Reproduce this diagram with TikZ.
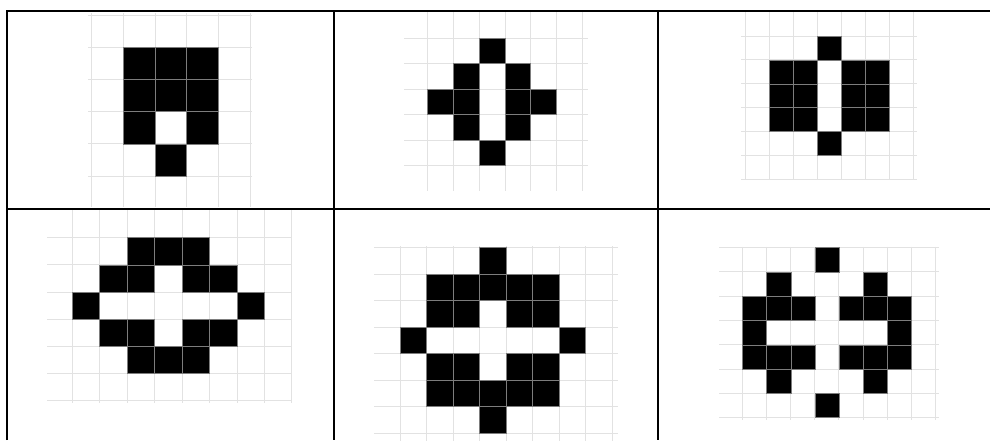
\documentclass[tikz,border=0pt]{standalone}
\usepackage{tikz}
\definecolor{gridgray}{RGB}{226,226,226}
\definecolor{edgegray}{RGB}{125,125,125}

\begin{document}
\begin{tikzpicture}[x=1pt,y=-1pt]
			\useasboundingbox (0,0) rectangle (990,440);
			% top left
			\begin{scope}[shift={(91.7,15)},xscale=31.67,yscale=32.2]
				\foreach \x in {0,...,5} {
					\draw[gridgray, line width=1pt] (\x,-0.06) -- (\x,5.96);
				}
				\foreach \y in {0,...,5} {
					\draw[gridgray, line width=1pt] (-0.12,\y) -- (5.06,\y);
				}
				\foreach \x/\y in {1/1,2/1,3/1,1/2,2/2,3/2,1/3,3/3,2/4} {
					\fill[black, draw=edgegray, line width=0.6pt] (\x,\y) rectangle ++(1,1);
				}
			\end{scope}
			% top middle
			\begin{scope}[shift={(427.7,38.3)},xscale=25.77,yscale=25.48]
				\foreach \x in {0,...,6} {
					\draw[gridgray, line width=1pt] (\x,-1.03) -- (\x,5.99);
				}
				\foreach \y in {0,...,5} {
					\draw[gridgray, line width=1pt] (-0.92,\y) -- (6.21,\y);
				}
				\foreach \x/\y in {2/0,1/1,3/1,0/2,1/2,3/2,4/2,1/3,3/3,2/4} {
					\fill[black, draw=edgegray, line width=0.6pt] (\x,\y) rectangle ++(1,1);
				}
			\end{scope}
			% top right
			\begin{scope}[shift={(745,36)},xscale=24,yscale=23.9]
				\foreach \x in {0,...,7} {
					\draw[gridgray, line width=1pt] (\x,-1.0) -- (\x,6.03);
				}
				\foreach \y in {0,...,6} {
					\draw[gridgray, line width=1pt] (-0.17,\y) -- (7.15,\y);
				}
				\foreach \x/\y in {3/0,1/1,2/1,4/1,5/1,1/2,2/2,4/2,5/2,1/3,2/3,4/3,5/3,3/4} {
					\fill[black, draw=edgegray, line width=0.6pt] (\x,\y) rectangle ++(1,1);
				}
			\end{scope}
			% bottom left
			\begin{scope}[shift={(72.3,237.7)},xscale=27.46,yscale=27.17]
				\foreach \x in {0,...,8} {
					\draw[gridgray, line width=1pt] (\x,-1.02) -- (\x,6.09);
				}
				\foreach \y in {0,...,6} {
					\draw[gridgray, line width=1pt] (-0.93,\y) -- (8.0,\y);
				}
				\foreach \x/\y in {2/0,3/0,4/0,1/1,2/1,4/1,5/1,0/2,6/2,1/3,2/3,4/3,5/3,2/4,3/4,4/4} {
					\fill[black, draw=edgegray, line width=0.6pt] (\x,\y) rectangle ++(1,1);
				}
			\end{scope}
			% bottom middle
			\begin{scope}[shift={(400,247.7)},xscale=26.5,yscale=26.51]
				\foreach \x in {0,...,8} {
					\draw[gridgray, line width=1pt] (\x,-0.06) -- (\x,7.3);
				}
				\foreach \y in {0,...,7} {
					\draw[gridgray, line width=1pt] (-0.97,\y) -- (8.21,\y);
				}
				\foreach \x/\y in {3/0,1/1,2/1,3/1,4/1,5/1,1/2,2/2,4/2,5/2,0/3,6/3,1/4,2/4,4/4,5/4,1/5,2/5,3/5,4/5,5/5,3/6} {
					\fill[black, draw=edgegray, line width=0.6pt] (\x,\y) rectangle ++(1,1);
				}
			\end{scope}
			% bottom right
			\begin{scope}[shift={(742.7,247.7)},xscale=24.07,yscale=24.29]
				\foreach \x in {0,...,8} {
					\draw[gridgray, line width=1pt] (\x,-0.04) -- (\x,7.09);
				}
				\foreach \y in {0,...,7} {
					\draw[gridgray, line width=1pt] (-0.98,\y) -- (8.14,\y);
				}
				\foreach \x/\y in {3/0,1/1,5/1,0/2,1/2,2/2,4/2,5/2,6/2,0/3,6/3,0/4,1/4,2/4,4/4,5/4,6/4,1/5,5/5,3/6} {
					\fill[black, draw=edgegray, line width=0.6pt] (\x,\y) rectangle ++(1,1);
				}
			\end{scope}
			% table rules
			\draw[black, line width=2pt] (7,440) -- (7,11) -- (990,11);
			\draw[black, line width=2pt] (7,209) -- (990,209);
			\draw[black, line width=2pt] (334,11) -- (334,440);
			\draw[black, line width=2pt] (658,11) -- (658,440);
		\end{tikzpicture}
\end{document}
